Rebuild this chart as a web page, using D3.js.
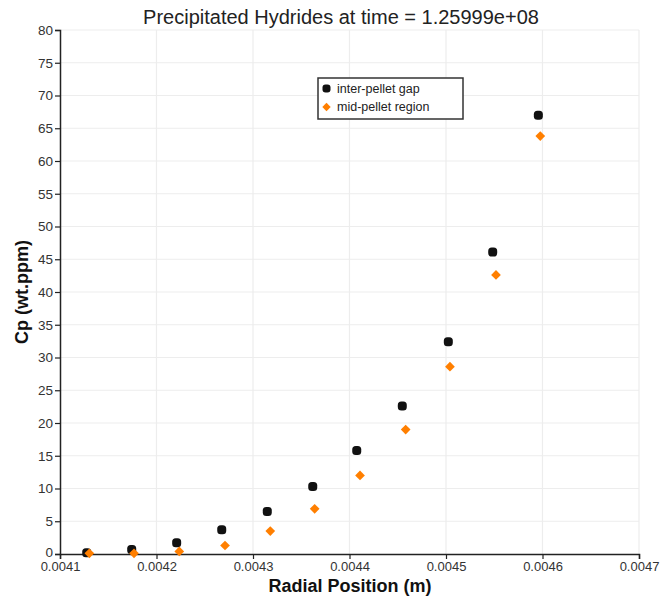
<!DOCTYPE html>
<html>
<head>
<meta charset="utf-8">
<script src="https://cdn.jsdelivr.net/npm/d3@7"></script>
<style>
  html, body { margin: 0; padding: 0; background: #fff; overflow: hidden; }
  svg { display: block; font-family: "Liberation Sans", Arial, sans-serif; }
</style>
</head>
<body>
<svg id="chart" width="669" height="596"></svg>
<script>
// ---- data ----
const title = "Precipitated Hydrides at time = 1.25999e+08";
const xLabel = "Radial Position (m)";
const yLabel = "Cp (wt.ppm)";
const seriesNames = ["inter-pellet gap", "mid-pellet region"];

const gapX = [0.0041277, 0.0041743, 0.0042209, 0.0042676, 0.0043148, 0.0043619, 0.0044075, 0.0044547, 0.0045024, 0.0045484, 0.0045957];
const gapY = [0.2, 0.7, 1.7, 3.7, 6.5, 10.3, 15.8, 22.6, 32.4, 46.1, 67.0];

const midX = [0.0041304, 0.0041767, 0.0042236, 0.0042710, 0.0043179, 0.0043639, 0.0044109, 0.0044582, 0.0045041, 0.0045518, 0.0045977];
const midY = [0.1, 0.1, 0.4, 1.3, 3.5, 6.9, 12.0, 19.0, 28.6, 42.6, 63.8];

const xTicks = [0.0041, 0.0042, 0.0043, 0.0044, 0.0045, 0.0046, 0.0047];
const yTicks = [0, 5, 10, 15, 20, 25, 30, 35, 40, 45, 50, 55, 60, 65, 70, 75, 80];

// ---- layout ----
const svg = d3.select("#chart");
const mLeft = 60, mRight = 639, mTop = 30, mBottom = 554;

const x = d3.scaleLinear().domain([0.0041, 0.0047]).range([mLeft, mRight]);
const y = d3.scaleLinear().domain([0, 80]).range([mBottom, mTop]);

// grid
const grid = svg.append("g");
grid.selectAll("line.h").data(yTicks.slice(1)).join("line")
  .attr("x1", mLeft).attr("x2", mRight)
  .attr("y1", d => y(d)).attr("y2", d => y(d))
  .attr("stroke", "#ededed").attr("stroke-width", 1.2);
grid.selectAll("line.v").data(xTicks.slice(1)).join("line")
  .attr("y1", mTop).attr("y2", mBottom)
  .attr("x1", d => x(d)).attr("x2", d => x(d))
  .attr("stroke", "#ededed").attr("stroke-width", 1.2);

// axes
const xAxis = d3.axisBottom(x).tickValues(xTicks).tickFormat(d3.format(".4f")).tickSize(5).tickPadding(3);
const yAxis = d3.axisLeft(y).tickValues(yTicks).tickFormat(d3.format("d")).tickSize(5).tickPadding(2);

const gx = svg.append("g").attr("transform", `translate(0,${mBottom})`).call(xAxis);
const gy = svg.append("g").attr("transform", `translate(${mLeft},0)`).call(yAxis);
[gx, gy].forEach(g => {
  g.select(".domain").attr("stroke", "#222").attr("stroke-width", 1.5);
  g.selectAll(".tick line").attr("stroke", "#222").attr("stroke-width", 1.2);
  g.selectAll(".tick text").attr("fill", "#333")
    .style("font-family", "'Liberation Sans', Arial, sans-serif");
});
gx.selectAll(".tick text").style("font-size", "13px");
gy.selectAll(".tick text").style("font-size", "13.5px");
// lift the "0" label slightly to keep it clear of the x tick labels
gy.selectAll(".tick text").filter(d => d === 0).attr("dy", "0.2em");

// points
const gapData = gapX.map((v, i) => [v, gapY[i]]);
const midData = midX.map((v, i) => [v, midY[i]]);

svg.append("g").selectAll("rect").data(gapData).join("rect")
  .attr("x", d => x(d[0]) - 4.5).attr("y", d => y(d[1]) - 4.5)
  .attr("width", 9).attr("height", 9).attr("rx", 3.5)
  .attr("fill", "#111");

const diamond = d3.symbol().type(d3.symbolDiamond2).size(60);
svg.append("g").selectAll("path").data(midData).join("path")
  .attr("d", diamond)
  .attr("transform", d => `translate(${x(d[0])},${y(d[1])})`)
  .attr("fill", "#ff7f00");

// title
svg.append("text").attr("x", 341).attr("y", 24).attr("text-anchor", "middle")
  .style("font-size", "20px").attr("fill", "#222").text(title);

// axis titles
svg.append("text").attr("x", 350).attr("y", 592).attr("text-anchor", "middle")
  .style("font-size", "18px").style("font-weight", "bold").attr("fill", "#111").text(xLabel);
svg.append("text").attr("transform", "translate(28,292) rotate(-90)").attr("text-anchor", "middle")
  .style("font-size", "18px").style("font-weight", "bold").attr("fill", "#111").text(yLabel);

// legend
const lg = svg.append("g").attr("transform", "translate(318,78)");
lg.append("rect").attr("width", 145).attr("height", 41)
  .attr("fill", "#fff").attr("stroke", "#333").attr("stroke-width", 1.5);
lg.append("rect").attr("x", 4.5).attr("y", 6.5).attr("width", 8).attr("height", 8).attr("rx", 3).attr("fill", "#111");
lg.append("path").attr("d", d3.symbol().type(d3.symbolDiamond2).size(45)).attr("transform", "translate(8.5,29)").attr("fill", "#ff7f00");
lg.append("text").attr("x", 19).attr("y", 15).style("font-size", "12.5px").attr("fill", "#222").text(seriesNames[0]);
lg.append("text").attr("x", 19).attr("y", 33).style("font-size", "12.5px").attr("fill", "#222").text(seriesNames[1]);
</script>
</body>
</html>
